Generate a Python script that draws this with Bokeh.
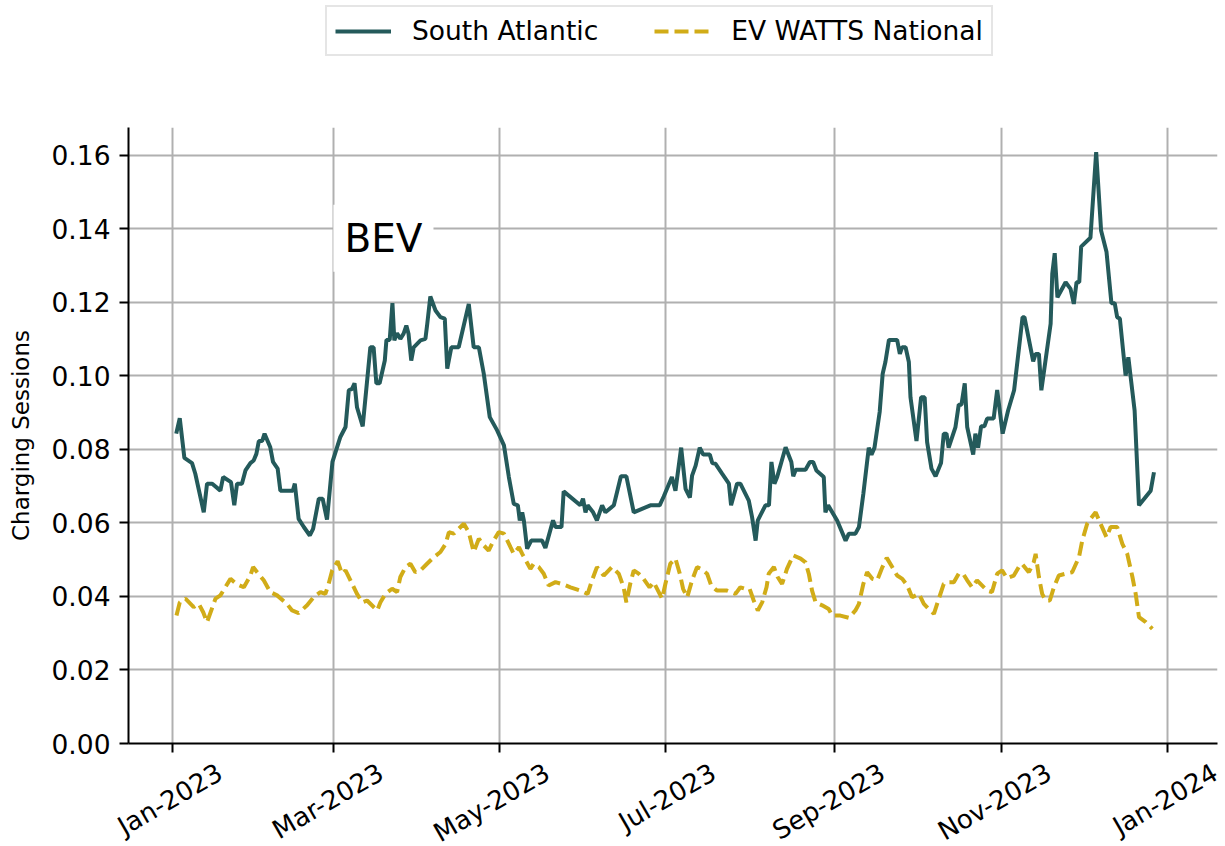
import numpy as np
import pandas as pd
from bokeh.plotting import figure
from bokeh.layouts import column
from bokeh.models import (Range1d, FixedTicker, Legend, LegendItem, Label, DatetimeAxis,
                          NumeralTickFormatter, CustomJSTickFormatter)
from bokeh.embed import file_html
from bokeh.resources import INLINE

# ---------------- data (days since 2023-01-01, value) ----------------
sa_day = [1.4, 2.7, 4.4, 7.2, 8.4, 11.5, 12.7, 14.6, 17.6, 18.6, 21.5, 22.7, 23.7, 25.5, 26.8,
          28.6, 29.8, 30.8, 31.7, 32.9, 33.8, 35.9, 36.9, 38.6, 39.6, 44.2, 44.9, 46.3, 48.2, 50.4,
          51.6, 53.7, 55.1, 56.7, 58.7, 61.6, 63.5, 64.7, 65.9, 66.8, 67.7, 69.8, 72.6, 73.8, 74.8,
          76.0, 77.9, 78.5, 79.7, 80.7, 81.4, 82.4, 83.6, 84.8, 85.8, 86.6, 87.6, 88.5, 91.0, 92.8,
          93.4, 94.6, 96.5, 98.3, 99.9, 100.8, 102.3, 105.0, 108.7, 110.5, 112.4, 114.2, 116.4, 119.1,
          121.6, 123.4, 125.2, 126.7, 127.4, 128.3, 128.9, 130.1, 131.6, 135.6, 136.8, 139.6, 140.5,
          142.7, 143.5, 149.6, 150.6, 151.5, 152.3, 154.3, 155.7, 157.6, 158.8, 161.9, 164.5, 166.5,
          169.2, 175.3, 178.7, 180.2, 183.2, 184.5, 186.6, 188.2, 189.8, 190.6, 191.9, 193.4, 194.7,
          197.1, 198.0, 199.2, 201.6, 204.1, 204.9, 207.1, 208.3, 211.4, 212.6, 213.9, 214.7, 217.5,
          218.8, 219.7, 220.8, 221.8, 224.9, 227.0, 227.7, 228.6, 232.2, 233.8, 235.0, 236.2, 238.9,
          239.5, 240.5, 243.8, 246.9, 248.1, 250.5, 251.8, 253.4, 255.4, 256.4, 257.5, 259.4, 260.5,
          261.5, 262.8, 265.8, 266.8, 267.6, 268.9, 270.1, 270.7, 272.9, 274.6, 275.9, 276.8, 278.4,
          279.9, 281.9, 282.9, 283.9, 284.7, 287.2, 288.4, 289.4, 290.6, 291.5, 293.7, 294.5, 295.5,
          296.6, 297.8, 298.8, 301.2, 302.5, 304.5, 306.5, 308.7, 311.8, 312.5, 315.7, 316.6, 317.8,
          318.7, 322.1, 322.7, 323.6, 324.6, 327.6, 329.4, 330.6, 331.6, 332.6, 333.3, 336.7, 338.8,
          340.6, 342.6, 344.4, 345.6, 346.5, 347.5, 349.6, 350.6, 352.9, 354.5, 358.8, 360.0]
sa_val = [0.0843, 0.0885, 0.0777, 0.0763, 0.0734, 0.0629, 0.0707, 0.0707, 0.0688, 0.0725, 0.0711,
          0.0648, 0.0707, 0.0707, 0.0743, 0.0763, 0.0770, 0.0788, 0.0823, 0.0823, 0.0843, 0.0806,
          0.0766, 0.0748, 0.0688, 0.0688, 0.0707, 0.0611, 0.0589, 0.0566, 0.0584, 0.0666, 0.0666,
          0.0609, 0.0766, 0.0834, 0.0861, 0.0961, 0.0965, 0.0980, 0.0915, 0.0863, 0.1078, 0.1078,
          0.0980, 0.0980, 0.1042, 0.1098, 0.1098, 0.1198, 0.1097, 0.1116, 0.1101, 0.1115, 0.1137,
          0.1115, 0.1042, 0.1078, 0.1097, 0.1101, 0.1137, 0.1216, 0.1178, 0.1160, 0.1156, 0.1020,
          0.1078, 0.1078, 0.1196, 0.1078, 0.1078, 0.1006, 0.0888, 0.0852, 0.0811, 0.0725, 0.0652,
          0.0648, 0.0607, 0.0629, 0.0607, 0.0530, 0.0552, 0.0552, 0.0532, 0.0607, 0.0589, 0.0589,
          0.0686, 0.0648, 0.0666, 0.0629, 0.0648, 0.0629, 0.0607, 0.0648, 0.0629, 0.0648, 0.0727,
          0.0727, 0.0629, 0.0648, 0.0648, 0.0672, 0.0725, 0.0688, 0.0805, 0.0693, 0.0669, 0.0729,
          0.0756, 0.0805, 0.0786, 0.0786, 0.0763, 0.0761, 0.0734, 0.0707, 0.0648, 0.0707, 0.0707,
          0.0661, 0.0616, 0.0552, 0.0607, 0.0648, 0.0648, 0.0766, 0.0707, 0.0725, 0.0806, 0.0766,
          0.0727, 0.0745, 0.0745, 0.0766, 0.0766, 0.0743, 0.0725, 0.0629, 0.0648, 0.0607, 0.0552,
          0.0571, 0.0571, 0.0589, 0.0679, 0.0805, 0.0786, 0.0805, 0.0902, 0.1006, 0.1038, 0.1098,
          0.1098, 0.1060, 0.1078, 0.1078, 0.1038, 0.0942, 0.0823, 0.0942, 0.0942, 0.0820, 0.0748,
          0.0727, 0.0763, 0.0843, 0.0843, 0.0805, 0.0861, 0.0922, 0.0922, 0.0980, 0.0861, 0.0786,
          0.0843, 0.0805, 0.0863, 0.0863, 0.0884, 0.0884, 0.0962, 0.0843, 0.0906, 0.0961, 0.1160,
          0.1160, 0.1040, 0.1060, 0.1060, 0.0961, 0.1142, 0.1278, 0.1334, 0.1214, 0.1255, 0.1237,
          0.1196, 0.1255, 0.1255, 0.1352, 0.1376, 0.1609, 0.1396, 0.1337, 0.1198, 0.1198, 0.1160,
          0.1156, 0.1001, 0.1051, 0.0906, 0.0648, 0.0688, 0.0738]

ev_day = [1.5, 2.7, 4.8, 7.8, 9.7, 11.3, 12.7, 15.8, 17.6, 19.4, 21.3, 23.5, 26.2, 28.6, 29.6,
          31.1, 33.5, 35.9, 38.4, 42.0, 43.9, 46.3, 49.4, 51.8, 54.3, 56.1, 57.3, 58.6, 60.6, 62.2,
          63.5, 65.3, 67.7, 69.6, 71.4, 75.1, 76.3, 78.1, 80.6, 82.4, 83.6, 85.5, 87.3, 89.1, 91.0,
          93.4, 95.9, 98.3, 100.2, 101.4, 103.2, 105.0, 106.9, 108.7, 110.5, 112.4, 114.2, 116.0,
          117.8, 119.7, 121.6, 124.0, 125.2, 127.1, 128.3, 131.3, 132.5, 134.4, 136.2, 138.0, 140.5,
          142.9, 146.0, 149.6, 152.3, 153.9, 155.7, 158.2, 161.2, 163.7, 165.5, 166.5, 167.9, 169.2,
          171.0, 172.8, 175.0, 176.5, 179.6, 180.8, 182.6, 184.5, 186.1, 187.3, 188.8, 190.6, 192.4,
          193.9, 196.1, 197.6, 199.7, 203.4, 206.5, 208.3, 210.1, 211.7, 213.2, 214.7, 216.3, 217.9,
          218.7, 220.6, 222.0, 223.6, 225.4, 227.7, 230.4, 232.2, 233.4, 234.6, 235.9, 238.3, 240.7,
          242.0, 245.0, 248.1, 250.5, 251.8, 253.4, 254.8, 256.7, 258.5, 260.4, 262.0, 264.0, 265.8,
          267.7, 269.5, 271.3, 273.8, 275.6, 277.4, 279.3, 281.1, 282.9, 284.7, 286.6, 288.4, 290.0,
          291.5, 293.3, 295.1, 298.8, 300.6, 302.5, 304.3, 306.1, 308.6, 310.4, 311.6, 314.1, 315.9,
          316.6, 317.8, 319.0, 320.3, 321.8, 323.3, 325.1, 327.6, 330.0, 332.5, 333.7, 335.5, 336.7,
          338.6, 340.4, 342.6, 344.1, 346.5, 348.4, 350.2, 352.1, 353.3, 354.5, 357.0, 359.4]
ev_val = [0.0348, 0.0384, 0.0394, 0.0371, 0.0380, 0.0357, 0.0330, 0.0394, 0.0403, 0.0425, 0.0448,
          0.0434, 0.0425, 0.0457, 0.0480, 0.0466, 0.0444, 0.0412, 0.0403, 0.0380, 0.0362, 0.0355,
          0.0376, 0.0398, 0.0412, 0.0407, 0.0434, 0.0471, 0.0496, 0.0462, 0.0471, 0.0444, 0.0407,
          0.0384, 0.0389, 0.0362, 0.0384, 0.0407, 0.0421, 0.0412, 0.0453, 0.0480, 0.0489, 0.0466,
          0.0471, 0.0489, 0.0507, 0.0521, 0.0543, 0.0575, 0.0571, 0.0584, 0.0598, 0.0575, 0.0521,
          0.0557, 0.0539, 0.0525, 0.0552, 0.0575, 0.0571, 0.0534, 0.0516, 0.0534, 0.0516, 0.0475,
          0.0489, 0.0480, 0.0462, 0.0430, 0.0439, 0.0434, 0.0425, 0.0416, 0.0407, 0.0444, 0.0480,
          0.0457, 0.0480, 0.0462, 0.0425, 0.0384, 0.0434, 0.0471, 0.0462, 0.0448, 0.0425, 0.0439,
          0.0394, 0.0434, 0.0489, 0.0503, 0.0462, 0.0421, 0.0398, 0.0444, 0.0480, 0.0475, 0.0462,
          0.0430, 0.0416, 0.0416, 0.0407, 0.0425, 0.0421, 0.0421, 0.0389, 0.0362, 0.0384, 0.0425,
          0.0462, 0.0480, 0.0453, 0.0434, 0.0475, 0.0512, 0.0503, 0.0493, 0.0462, 0.0416, 0.0384,
          0.0376, 0.0366, 0.0348, 0.0348, 0.0342, 0.0362, 0.0380, 0.0434, 0.0466, 0.0448, 0.0444,
          0.0480, 0.0505, 0.0480, 0.0457, 0.0448, 0.0430, 0.0398, 0.0407, 0.0380, 0.0366, 0.0353,
          0.0394, 0.0434, 0.0439, 0.0439, 0.0462, 0.0462, 0.0444, 0.0425, 0.0444, 0.0416, 0.0412,
          0.0462, 0.0471, 0.0450, 0.0457, 0.0480, 0.0489, 0.0466, 0.0493, 0.0516, 0.0453, 0.0407,
          0.0389, 0.0389, 0.0425, 0.0457, 0.0462, 0.0466, 0.0507, 0.0552, 0.0598, 0.0611, 0.0629,
          0.0598, 0.0561, 0.0589, 0.0589, 0.0543, 0.0516, 0.0453, 0.0407, 0.0344, 0.0330, 0.0312]

series_names = ["South Atlantic", "EV WATTS National"]
tick_dates = ["2023-01-01", "2023-03-01", "2023-05-01", "2023-07-01",
              "2023-09-01", "2023-11-01", "2024-01-01"]
tick_labels = ["Jan-2023", "Mar-2023", "May-2023", "Jul-2023",
               "Sep-2023", "Nov-2023", "Jan-2024"]
y_ticks = [0.00, 0.02, 0.04, 0.06, 0.08, 0.10, 0.12, 0.14, 0.16]
annotation_text = "BEV"
y_label = "Charging Sessions"

# ---------------- helpers ----------------
base = pd.Timestamp("2023-01-01")
DAY_MS = 86400000.0


def to_ms(days):
    return [(base + pd.Timedelta(days=float(d))).value / 1e6 for d in days]


sa_x = to_ms(sa_day)
ev_x = to_ms(ev_day)
tick_ms = [pd.Timestamp(t).value / 1e6 for t in tick_dates]
# rotated labels are centred under their tick: Bokeh anchors rotated labels
# at their right end, so the label axis anchors sit half a label to the right
label_anchor_ms = [t + 17.5 * DAY_MS for t in tick_ms]

FONT = "DejaVu Sans"
C_SA = "#245A5B"
C_EV = "#D1AC18"
LEG_H = 60

x0 = to_ms([-16.1])[0]
x1 = to_ms([383.3])[0]

# ---------------- legend strip ----------------
pl = figure(width=1225, height=LEG_H, output_backend="svg", toolbar_location=None,
            x_axis_location=None, y_axis_location=None, min_border=0,
            x_range=Range1d(0, 1), y_range=Range1d(0, 1))
pl.grid.visible = False
pl.outline_line_color = None
pl.background_fill_color = "white"
pl.border_fill_color = "white"
# the same series, on ranges that hold none of it: only the legend keys show
k1 = pl.line(sa_x, sa_val, line_color=C_SA, line_width=4)
k2 = pl.line(ev_x, ev_val, line_color=C_EV, line_width=4, line_dash="14 6")
legend = Legend(items=[LegendItem(label=series_names[0], renderers=[k1]),
                       LegendItem(label=series_names[1], renderers=[k2])],
                orientation="horizontal", location=(197, 4), margin=0,
                padding=8, spacing=56, label_standoff=21,
                glyph_width=56, glyph_height=20,
                label_text_font=FONT, label_text_font_size="26.5px",
                label_text_color="black",
                border_line_color="#cccccc", border_line_width=2,
                background_fill_color="white", background_fill_alpha=1)
pl.add_layout(legend, "center")

# ---------------- main chart ----------------
p = figure(frame_width=1089, frame_height=616, x_axis_type="datetime",
           output_backend="svg", toolbar_location=None,
           x_range=Range1d(x0, x1), y_range=Range1d(0, 0.1676),
           min_border_left=128, min_border_right=8,
           min_border_top=127 - LEG_H, min_border_bottom=100)
p.outline_line_color = None
p.background_fill_color = "white"
p.border_fill_color = "white"

r1 = p.line(sa_x, sa_val, line_color=C_SA, line_width=4)
r2 = p.line(ev_x, ev_val, line_color=C_EV, line_width=4, line_dash="14 6")

for ax in (p.xaxis[0], p.yaxis[0]):
    ax.axis_line_width = 2
    ax.axis_line_color = "black"
    ax.major_tick_out = 9
    ax.major_tick_in = 0
    ax.major_tick_line_width = 2
    ax.major_tick_line_color = "black"
    ax.minor_tick_line_color = None
    ax.major_label_text_font = FONT
    ax.major_label_text_font_size = "26.5px"
    ax.major_label_text_color = "black"

p.xaxis.ticker = FixedTicker(ticks=tick_ms)
p.xaxis.formatter = CustomJSTickFormatter(code="return ''")
p.xaxis.major_label_standoff = 0
p.yaxis.ticker = FixedTicker(ticks=y_ticks)
p.yaxis.formatter = NumeralTickFormatter(format="0.00")
p.yaxis.major_label_standoff = 9
p.yaxis.axis_label = y_label
p.yaxis.axis_label_text_font = FONT
p.yaxis.axis_label_text_font_size = "23px"
p.yaxis.axis_label_text_font_style = "normal"
p.yaxis.axis_label_text_color = "black"
p.yaxis.axis_label_standoff = 14

# label-only axis carrying the rotated month labels
lab_ax = DatetimeAxis(ticker=FixedTicker(ticks=label_anchor_ms),
                      formatter=CustomJSTickFormatter(args=dict(labels=tick_labels),
                                                      code="return labels[index]"),
                      axis_line_color=None, major_tick_line_color=None,
                      minor_tick_line_color=None, major_tick_out=0, major_tick_in=0,
                      major_label_standoff=18, major_label_orientation=np.pi / 6,
                      major_label_text_font=FONT, major_label_text_font_size="26px",
                      major_label_text_color="black")
p.add_layout(lab_ax, "below")

p.xgrid.ticker = FixedTicker(ticks=tick_ms)
p.ygrid.ticker = FixedTicker(ticks=y_ticks)
for g in (p.xgrid[0], p.ygrid[0]):
    g.grid_line_color = "#b0b0b0"
    g.grid_line_width = 2

p.add_layout(Label(x=to_ms([77.4])[0], y=0.1375, text=annotation_text,
                   text_align="center", text_baseline="middle",
                   text_font=FONT, text_font_size="39px", text_color="black",
                   background_fill_color="white", padding=11))

layout = column(pl, p)
open("out.html", "w").write(file_html(layout, INLINE))
